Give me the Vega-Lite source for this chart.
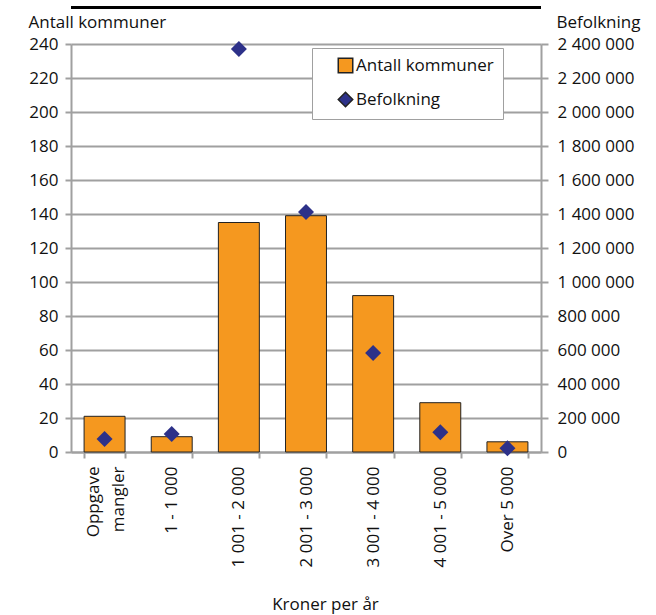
{
  "$schema": "https://vega.github.io/schema/vega-lite/v6.json",
  "width": 470,
  "height": 408,
  "autosize": {"type": "none"},
  "padding": {"left": 71, "top": 44, "right": 115, "bottom": 163},
  "background": "white",
  "config": {
    "font": "Open Sans",
    "view": {"stroke": null},
    "locale": {"number": {"decimal": ",", "thousands": " ", "grouping": [3], "currency": ["", " kr"]}},
    "axis": {
      "labelFont": "Open Sans",
      "titleFont": "Open Sans",
      "labelFontSize": 17,
      "titleFontSize": 17,
      "labelColor": "#111",
      "titleColor": "#111",
      "titleFontWeight": "normal",
      "domainColor": "#a0a0a0",
      "domainWidth": 2,
      "tickColor": "#a0a0a0",
      "tickWidth": 2,
      "gridColor": "#a0a0a0",
      "gridWidth": 2
    },
    "legend": {"labelFont": "Open Sans", "labelFontSize": 17, "labelColor": "#111"}
  },
  "data": {
    "values": [
      {"kategori": "Oppgave mangler", "kommuner": 21, "befolkning": 77000},
      {"kategori": "1 - 1 000", "kommuner": 9, "befolkning": 106000},
      {"kategori": "1 001 - 2 000", "kommuner": 135, "befolkning": 2371000},
      {"kategori": "2 001 - 3 000", "kommuner": 139, "befolkning": 1412000},
      {"kategori": "3 001 - 4 000", "kommuner": 92, "befolkning": 582000},
      {"kategori": "4 001 - 5 000", "kommuner": 29, "befolkning": 116000},
      {"kategori": "Over 5 000", "kommuner": 6, "befolkning": 22000}
    ]
  },
  "layer": [
    {
      "mark": {"type": "bar", "stroke": "#222", "strokeWidth": 1},
      "encoding": {
        "x": {
          "field": "kategori",
          "type": "nominal",
          "sort": null,
          "scale": {"paddingInner": 0.39, "paddingOuter": 0.195},
          "axis": {
            "title": "Kroner per år",
            "labelAngle": -90,
            "labelAlign": "right",
            "labelBaseline": "middle",
            "labelPadding": 8,
            "labelLineHeight": 25,
            "labelExpr": "datum.label == 'Oppgave mangler' ? ['Oppgave', 'mangler'] : datum.label",
            "labelOffset": {"condition": {"test": "datum.value == 'Oppgave mangler'", "value": -11}, "value": 0},
            "tickBand": "extent",
            "tickSize": 6,
            "grid": false,
            "titleX": 254,
            "titleY": 157,
            "titleAnchor": "middle",
            "titleBaseline": "alphabetic"
          }
        },
        "y": {
          "field": "kommuner",
          "type": "quantitative",
          "scale": {"domain": [0, 240], "nice": false},
          "axis": {
            "title": "Antall kommuner",
            "values": [0, 20, 40, 60, 80, 100, 120, 140, 160, 180, 200, 220, 240],
            "grid": true,
            "tickSize": 6,
            "labelPadding": 7,
            "titleAngle": 0,
            "titleAlign": "left",
            "titleAnchor": null,
            "titleX": -43,
            "titleY": -17,
            "titleBaseline": "alphabetic"
          }
        },
        "color": {
          "datum": "Antall kommuner",
          "scale": {"domain": ["Antall kommuner", "Befolkning"], "range": ["#F5981F", "#2D3189"]},
          "legend": {
            "title": null,
            "orient": "none",
            "legendX": 241,
            "legendY": 4,
            "padding": 9,
            "rowPadding": 13,
            "symbolOffset": 16,
            "symbolSize": 210,
            "labelOffset": 2,
            "strokeColor": "#a0a0a0",
            "fillColor": "white",
            "labelExpr": "datum.label + '    '",
            "encode": {
              "legend": {"update": {"strokeWidth": {"value": 2}}},
              "symbols": {
                "update": {
                  "stroke": {"signal": "datum.value === 'Befolkning' ? '#2D3189' : '#222'"},
                  "strokeWidth": {"value": 1},
                  "fillOpacity": {"value": 1}
                }
              }
            }
          }
        }
      }
    },
    {
      "mark": {"type": "point", "filled": true, "size": 256, "opacity": 1},
      "encoding": {
        "x": {"field": "kategori", "type": "nominal", "sort": null},
        "y": {
          "field": "befolkning",
          "type": "quantitative",
          "scale": {"domain": [0, 2400000], "nice": false},
          "axis": {
            "title": "Befolkning",
            "orient": "right",
            "format": ",d",
            "values": [0, 200000, 400000, 600000, 800000, 1000000, 1200000, 1400000, 1600000, 1800000, 2000000, 2200000, 2400000],
            "grid": false,
            "tickSize": 7,
            "labelPadding": 9,
            "titleAngle": 0,
            "titleAlign": "right",
            "titleAnchor": null,
            "titleX": 99,
            "titleY": -17,
            "titleBaseline": "alphabetic"
          }
        },
        "color": {"datum": "Befolkning"},
        "shape": {
          "datum": "Befolkning",
          "scale": {"domain": ["Antall kommuner", "Befolkning"], "range": ["square", "diamond"]}
        }
      }
    },
    {
      "mark": {"type": "rule", "color": "#000", "strokeWidth": 3, "clip": false},
      "encoding": {
        "y": {"datum": 261.5, "type": "quantitative", "scale": {"domain": [0, 240], "nice": false}, "axis": null}
      }
    }
  ],
  "resolve": {"scale": {"y": "independent"}}
}
